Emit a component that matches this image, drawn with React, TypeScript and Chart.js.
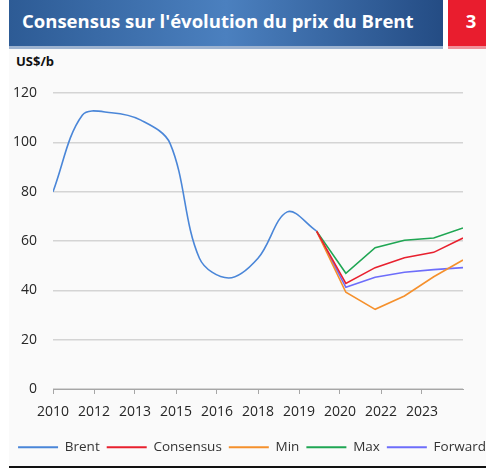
import React, { useEffect, useRef } from "react";
import { Chart, registerables } from "chart.js";

Chart.register(...registerables);

// ---- data ----
const brentYears = [2010, 2011, 2012, 2013, 2014, 2015, 2016, 2017, 2018, 2019];
const brentValues = [80, 111, 112, 109, 99.5, 53, 45, 53, 71.8, 64];
const forecastYears = [2019, 2020, 2021, 2022, 2023, 2024];
const consensusValues = [64, 42.8, 49.2, 53.2, 55.4, 61.2];
const minValues = [64, 39.2, 32.3, 37.7, 45.5, 52.3];
const maxValues = [64, 46.9, 57.3, 60.3, 61.2, 65.3];
const forwardValues = [64, 41.2, 45.3, 47.3, 48.4, 49.2];
const xTickLabels = ["2010", "2012", "2013", "2015", "2016", "2018", "2019", "2020", "2022", "2023"];
const xMin = 2010;
const xMax = 2024;
const yMin = 0;
const yMax = 120;
const yStep = 20;

const FONT = "'Open Sans', 'DejaVu Sans', sans-serif";
const CANVAS_W = 504;
const CANVAS_H = 416;

export default function App() {
  const ref = useRef<HTMLCanvasElement>(null);

  useEffect(() => {
    const mk = (xs: number[], ys: number[]) => xs.map((x, i) => ({ x, y: ys[i] }));
    const chart = new Chart(ref.current as HTMLCanvasElement, {
      type: "line",
      data: {
        datasets: [
          { label: "Brent", data: mk(brentYears, brentValues), borderColor: "#4a86d8", backgroundColor: "#4a86d8", tension: 0.35 },
          { label: "Consensus", data: mk(forecastYears, consensusValues), borderColor: "#e8202e", backgroundColor: "#e8202e", tension: 0 },
          { label: "Min", data: mk(forecastYears, minValues), borderColor: "#f5902c", backgroundColor: "#f5902c", tension: 0 },
          { label: "Max", data: mk(forecastYears, maxValues), borderColor: "#1fa653", backgroundColor: "#1fa653", tension: 0 },
          { label: "Forward", data: mk(forecastYears, forwardValues), borderColor: "#6d6dfa", backgroundColor: "#6d6dfa", tension: 0 },
        ],
      },
      options: {
        animation: false,
        responsive: false,
        maintainAspectRatio: false,
        layout: { padding: { left: 0, right: 0, top: 43, bottom: 2 } },
        elements: { point: { radius: 0 }, line: { borderWidth: 1.6 } },
        plugins: {
          tooltip: { enabled: false },
          legend: {
            position: "bottom",
            labels: {
              boxWidth: 40,
              boxHeight: 2,
              padding: 7,
              color: "#333333",
              font: { family: FONT, size: 13.5 },
              generateLabels: (c: any) =>
                c.data.datasets.map((ds: any, i: number) => ({
                  text: ds.label,
                  fillStyle: ds.borderColor,
                  strokeStyle: ds.borderColor,
                  lineWidth: 0,
                  hidden: false,
                  datasetIndex: i,
                  fontColor: "#333333",
                })),
            },
          },
        },
        scales: {
          x: {
            type: "linear",
            min: xMin,
            max: xMax,
            afterBuildTicks: (s: any) => {
              const step = (xMax - xMin) / xTickLabels.length;
              s.ticks = xTickLabels.map((_, i) => ({ value: xMin + i * step }));
            },
            afterFit: (s: any) => {
              s.height = 44.5;
            },
            ticks: {
              autoSkip: false,
              maxRotation: 0,
              padding: 10,
              color: "#262626",
              font: { family: FONT, size: 14 },
              callback: (_v: any, i: number) => xTickLabels[i],
            },
            grid: { drawOnChartArea: false, drawTicks: true, tickLength: 5, color: "#a6a6a6" },
            border: { display: true, color: "#a6a6a6", width: 1 },
          },
          y: {
            min: yMin,
            max: yMax,
            ticks: { stepSize: yStep, padding: 16, color: "#262626", font: { family: FONT, size: 14 } },
            grid: { color: "#d4d4d4", lineWidth: 1.5, drawTicks: false },
            border: { display: false },
            afterFit: (s: any) => {
              s.width = 53;
            },
          },
          y2: {
            position: "right",
            display: true,
            ticks: { display: false },
            grid: { display: false },
            border: { display: false },
            afterFit: (s: any) => {
              s.width = CANVAS_W - 463;
            },
          },
        },
      } as any,
    });
    return () => chart.destroy();
  }, []);

  return (
    <div style={{ position: "absolute", left: 0, top: 0, width: 486, height: 472, background: "#ffffff", overflow: "hidden" }}>
      <div style={{ position: "absolute", left: 9, top: 0, width: 434, height: 46, background: "linear-gradient(90deg, #2d5b95 0%, #4b80bf 50%, #244c84 100%)" }} />
      <div style={{ position: "absolute", left: 9, top: 46, width: 434, height: 3, background: "#9db3d0" }} />
      <div style={{ position: "absolute", left: 448, top: 0, width: 38, height: 46, background: "#e91d2e" }} />
      <div style={{ position: "absolute", left: 448, top: 46, width: 38, height: 3, background: "#f0909a" }} />
      <div style={{ position: "absolute", left: 9, top: 49, width: 477, height: 417, background: "#fafafa" }} />
      <div style={{ position: "absolute", left: 9, top: 466, width: 477, height: 2, background: "#111111" }} />
      <div style={{ position: "absolute", left: 22, top: 0, height: 46, lineHeight: "42px", color: "#ffffff", fontFamily: FONT, fontWeight: 700, fontSize: 18.5, whiteSpace: "nowrap" }}>
        Consensus sur l'évolution du prix du Brent
      </div>
      <div style={{ position: "absolute", left: 448, top: 0, width: 46, height: 46, lineHeight: "42px", color: "#ffffff", fontFamily: FONT, fontWeight: 700, fontSize: 18.5, textAlign: "center" }}>
        3
      </div>
      <div style={{ position: "absolute", left: 16, top: 55, lineHeight: "13px", color: "#111111", fontFamily: FONT, fontWeight: 700, fontSize: 13, whiteSpace: "nowrap" }}>
        US$/b
      </div>
      <canvas ref={ref} width={CANVAS_W} height={CANVAS_H} style={{ position: "absolute", left: 0, top: 50, width: CANVAS_W, height: CANVAS_H }} />
    </div>
  );
}
